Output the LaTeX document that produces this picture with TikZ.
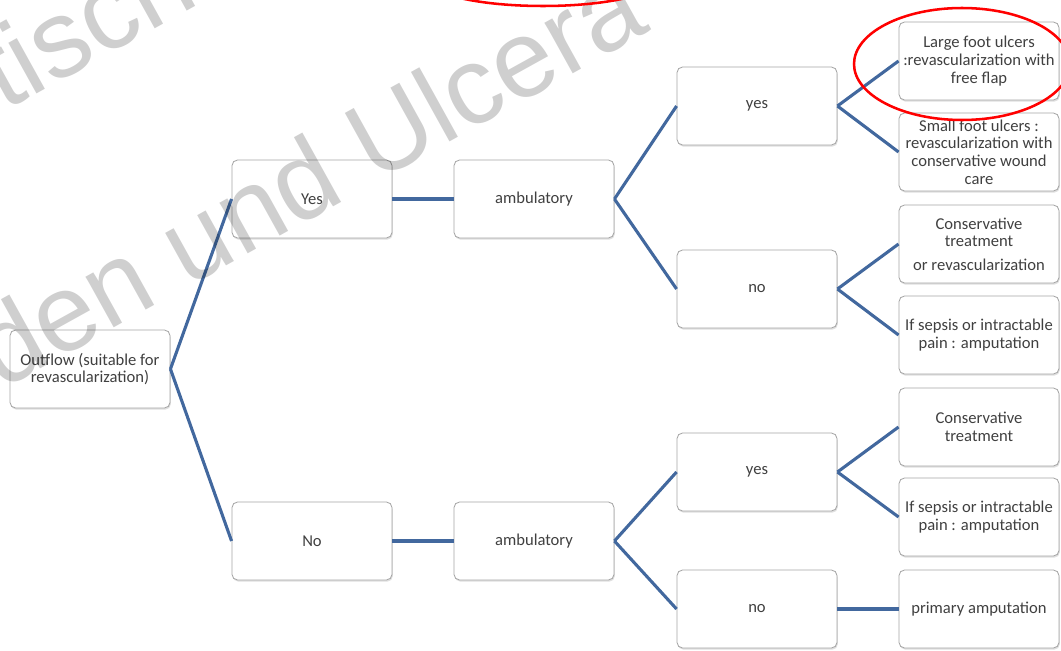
\documentclass[tikz,border=0pt]{standalone}
\usepackage{fontspec}
\setmainfont{Carlito}
\newfontfamily\wmfont{Liberation Sans}
\usetikzlibrary{shadows}
\definecolor{linkblue}{RGB}{66,104,158}
\definecolor{boxtext}{RGB}{64,64,64}

\begin{document}
\begin{tikzpicture}[x=0.025cm, y=-0.025cm,
  box/.style={rectangle, rounded corners=4pt, draw=black!35, line width=0.6pt, fill=white,
    minimum width=4cm, minimum height=1.95cm, align=center, text=boxtext, inner sep=2pt,
    font=\fontsize{11.8}{12.6}\selectfont,
    drop shadow={opacity=0.25, shadow xshift=0.6pt, shadow yshift=-1.2pt}},
  link/.style={draw=linkblue, line width=2.2pt},
  wm/.style={text=black, text opacity=0.19, rotate=29, inner sep=0pt,
    font=\wmfont\fontsize{78}{78}\selectfont},
  redmark/.style={draw=red, line width=1.8pt}]
  \useasboundingbox (0,0) rectangle (1061,651);

  % Baum
  \node[box] (out) at (90,369) {Outflow (suitable for\\revascularization)};
  \node[box] (yes) at (312,199) {Yes};
  \node[box] (no) at (312,541) {No};
  \node[box] (ambY) at (534,199) {ambulatory};
  \node[box] (ambN) at (534,541) {ambulatory};
  \node[box] (yesY) at (757,106) {yes};
  \node[box] (noY) at (757,289) {no};
  \node[box] (yesN) at (757,472) {yes};
  \node[box] (noN) at (757,609) {no};

  % Blaetter
  \node[box] (large) at (979,61) {Large foot ulcers\\:revascularization with\\free flap};
  \node[box] (small) at (979,152) {Small foot ulcers :\\revascularization with\\conservative wound\\care};
  \node[box] (consY) at (979,244) {Conservative\\treatment\\[4pt]or revascularization};
  \node[box] (sepsY) at (979,335) {If sepsis or intractable\\pain : amputation};
  \node[box] (consN) at (979,427) {Conservative\\treatment};
  \node[box] (sepsN) at (979,517) {If sepsis or intractable\\pain : amputation};
  \node[box] (prim) at (979,609) {primary amputation};

  % Verbindungen
  \draw[link] (out.east) -- (yes.west);
  \draw[link] (out.east) -- (no.west);
  \draw[link] (yes.east) -- (ambY.west);
  \draw[link] (no.east) -- (ambN.west);
  \draw[link] (ambY.east) -- (yesY.west);
  \draw[link] (ambY.east) -- (noY.west);
  \draw[link] (ambN.east) -- (yesN.west);
  \draw[link] (ambN.east) -- (noN.west);
  \draw[link] (yesY.east) -- (large.west);
  \draw[link] (yesY.east) -- (small.west);
  \draw[link] (noY.east) -- (consY.west);
  \draw[link] (noY.east) -- (sepsY.west);
  \draw[link] (yesN.east) -- (consN.west);
  \draw[link] (yesN.east) -- (sepsN.west);
  \draw[link] (noN.east) -- (prim.west);

  % Wasserzeichen und Markierungen
  \begin{scope}
  \clip (0,0) rectangle (1061,651);
  \node[wm, anchor=base west] (wmA) at (4,112) {tisch};
  \node[wm, anchor=base east] (wmB) at (652,30) {nden und Ulcera};
  \draw[redmark] (962,64) ellipse [x radius=108, y radius=56];
  \draw[redmark] (543,-20) ellipse [x radius=115, y radius=26];
  \end{scope}
\end{tikzpicture}
\end{document}
